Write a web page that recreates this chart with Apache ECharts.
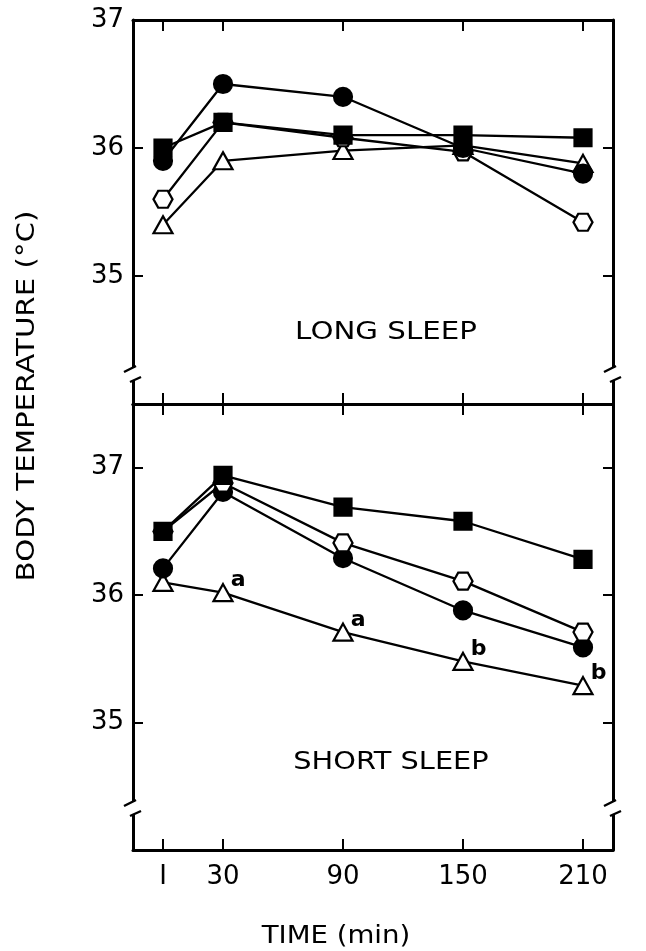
<!DOCTYPE html>
<html>
<head>
<meta charset="utf-8">
<script src="https://cdn.jsdelivr.net/npm/echarts@6/dist/echarts.min.js"></script>
<style>
html,body{margin:0;padding:0;background:#fff;}
#chart{width:646px;height:951px;}
</style>
</head>
<body>
<div id="chart"></div>
<script>
// ---- data ----
const timePoints = [0, 30, 90, 150, 210];
const timeLabels = ['I', '30', '90', '150', '210'];
const yTickValues = [35, 36, 37];

// LONG SLEEP panel
const longFilledCircle = [35.9, 36.5, 36.4, 36.0, 35.8];
const longFilledSquare = [36.0, 36.2, 36.1, 36.1, 36.08];
const longOpenHexagon  = [35.6, 36.2, 36.08, 35.97, 35.42];
const longOpenTriangle = [35.4, 35.9, 35.98, 36.02, 35.88];

// SHORT SLEEP panel
const shortFilledSquare = [36.5, 36.94, 36.69, 36.58, 36.28];
const shortOpenHexagon  = [36.5, 36.88, 36.41, 36.11, 35.71];
const shortFilledCircle = [36.21, 36.81, 36.29, 35.88, 35.59];
const shortOpenTriangle = [36.1, 36.02, 35.71, 35.48, 35.29];
const shortTriangleNotes = ['', 'a', 'a', 'b', 'b'];

const panelTitles = ['LONG SLEEP', 'SHORT SLEEP'];
const xTitle = 'TIME (min)';
const yTitle = 'BODY TEMPERATURE (°C)';

// ---- styling ----
const FONT = 'DejaVu Sans';
const HEX = 'path://M0,43.3 L25,0 L75,0 L100,43.3 L75,86.6 L25,86.6 Z';
const markerDefs = {
  filledCircle: {symbol: 'circle', size: 18, fill: '#000'},
  filledSquare: {symbol: 'rect', size: 17, fill: '#000'},
  openHexagon: {symbol: HEX, size: [19, 17], fill: '#fff'},
  openTriangle: {symbol: 'triangle', size: [19, 17], fill: '#fff'}
};

function pairs(vals) { return timePoints.map((t, i) => [t, vals[i]]); }

function lineSeries(vals, gi) {
  return {
    type: 'line', xAxisIndex: gi === 0 ? 0 : 2, yAxisIndex: gi === 0 ? 0 : 2,
    data: pairs(vals), showSymbol: false, z: 2, silent: true,
    lineStyle: {color: '#000', width: 2.3}
  };
}
function markerSeries(vals, gi, kind, notes) {
  const d = markerDefs[kind];
  const s = {
    type: 'scatter', xAxisIndex: gi === 0 ? 0 : 2, yAxisIndex: gi === 0 ? 0 : 2,
    data: pairs(vals).map((p, i) => ({value: p, note: notes ? notes[i] : ''})),
    symbol: d.symbol, symbolSize: d.size, z: 3,
    itemStyle: {color: d.fill, borderColor: '#000', borderWidth: 2.2, opacity: 1}
  };
  if (notes) {
    s.label = {
      show: true, position: 'right', distance: -3, offset: [0, -12],
      formatter: p => p.data.note, color: '#000',
      fontFamily: FONT, fontWeight: 'bold', fontSize: 22
    };
  }
  return s;
}

const axisLineStyle = {color: '#000', width: 3};
const tickStyle = {color: '#000', width: 2};

function xAx(gi, pos, labels) {
  return {
    type: 'value', gridIndex: gi, position: pos, min: -15, max: 225,
    axisLine: {show: true, onZero: false, lineStyle: axisLineStyle},
    axisTick: {show: true, inside: true, length: 11, lineStyle: tickStyle, customValues: timePoints},
    axisLabel: labels ? {
      show: true, customValues: timePoints, margin: 14,
      formatter: v => timeLabels[timePoints.indexOf(v)],
      fontFamily: FONT, fontSize: 26, color: '#000'
    } : {show: false},
    splitLine: {show: false}
  };
}
function yAx(gi, pos, min, max, ticks, labels) {
  return {
    type: 'value', gridIndex: gi, position: pos, min: min, max: max,
    axisLine: {show: true, onZero: false, lineStyle: axisLineStyle},
    axisTick: {show: true, inside: true, length: 10, lineStyle: tickStyle, customValues: ticks},
    axisLabel: labels ? {
      show: true, customValues: yTickValues, margin: 9,
      fontFamily: FONT, fontSize: 26, color: '#000'
    } : {show: false},
    splitLine: {show: false}
  };
}

// axis break decorations
function breakMarks(x, y) {
  return [
    {type: 'rect', z: 100, shape: {x: x - 4, y: y - 6, width: 8, height: 12}, style: {fill: '#fff'}},
    {type: 'line', z: 101, shape: {x1: x - 9, y1: y - 2, x2: x + 3, y2: y - 8}, style: {stroke: '#000', lineWidth: 2.4}},
    {type: 'line', z: 101, shape: {x1: x - 3, y1: y + 8, x2: x + 8, y2: y + 3}, style: {stroke: '#000', lineWidth: 2.4}}
  ];
}
function txt(text, x, y, sx, rot, size) {
  return {
    type: 'text', x: x, y: y, rotation: rot || 0, scaleX: sx, z: 50,
    style: {text: text, fill: '#000', font: (size || 24) + 'px "' + FONT + '"', align: 'center', verticalAlign: 'middle'}
  };
}

const option = {
  animation: false,
  backgroundColor: '#fff',
  grid: [
    {left: 133, right: 33, top: 20, height: 384},
    {left: 133, right: 33, top: 404, height: 446}
  ],
  xAxis: [
    xAx(0, 'bottom', false),
    xAx(0, 'top', false),
    xAx(1, 'bottom', true),
    xAx(1, 'top', false)
  ],
  yAxis: [
    yAx(0, 'left', 34, 37, [35, 36], true),
    yAx(0, 'right', 34, 37, [35, 36], false),
    yAx(1, 'left', 34, 37.5, [35, 36, 37], true),
    yAx(1, 'right', 34, 37.5, [35, 36, 37], false)
  ],
  series: [
    lineSeries(longFilledSquare, 0),
    lineSeries(longOpenHexagon, 0),
    lineSeries(longFilledCircle, 0),
    lineSeries(longOpenTriangle, 0),
    markerSeries(longOpenTriangle, 0, 'openTriangle'),
    markerSeries(longOpenHexagon, 0, 'openHexagon'),
    markerSeries(longFilledCircle, 0, 'filledCircle'),
    markerSeries(longFilledSquare, 0, 'filledSquare'),

    lineSeries(shortFilledSquare, 1),
    lineSeries(shortOpenHexagon, 1),
    lineSeries(shortFilledCircle, 1),
    lineSeries(shortOpenTriangle, 1),
    markerSeries(shortOpenTriangle, 1, 'openTriangle', shortTriangleNotes),
    markerSeries(shortFilledCircle, 1, 'filledCircle'),
    markerSeries(shortOpenHexagon, 1, 'openHexagon'),
    markerSeries(shortFilledSquare, 1, 'filledSquare')
  ],
  graphic: [].concat(
    breakMarks(133, 374), breakMarks(613, 374),
    breakMarks(133, 808), breakMarks(613, 808),
    [
      txt(panelTitles[0], 386, 333, 1.22),
      txt(panelTitles[1], 391, 763, 1.2),
      txt(xTitle, 336, 937, 1.15),
      txt(yTitle, 28, 396, 1.22, Math.PI / 2)
    ]
  )
};

const chart = echarts.init(document.getElementById('chart'), null, {renderer: 'canvas'});
chart.setOption(option);
</script>
</body>
</html>
